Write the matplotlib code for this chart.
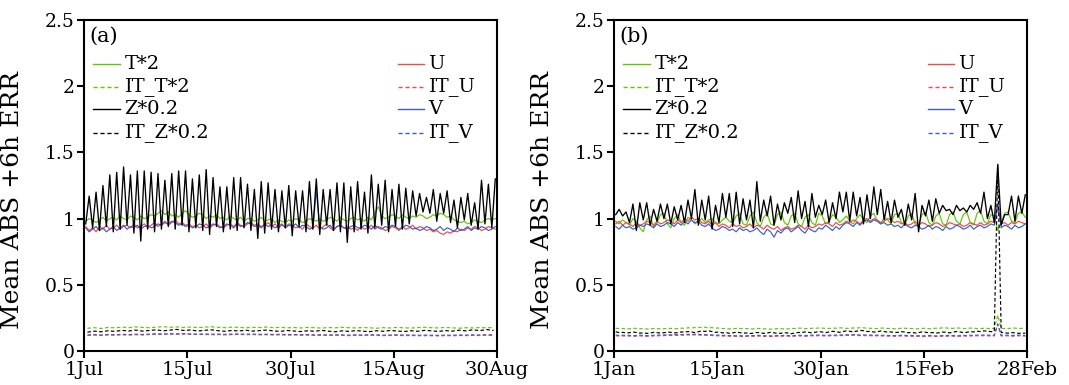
import numpy as np
import matplotlib
matplotlib.use("Agg")
import matplotlib.pyplot as plt
from matplotlib.lines import Line2D

# ---------------- data : panel (a) 1 Jul - 30 Aug ----------------
xtick_labels_a = ["1Jul", "15Jul", "30Jul", "15Aug", "30Aug"]
xtick_labels_b = ["1Jan", "15Jan", "30Jan", "15Feb", "28Feb"]
ytick_vals = [0, 0.5, 1, 1.5, 2, 2.5]
ytick_labels = ["0", "0.5", "1", "1.5", "2", "2.5"]

# Z*0.2 daily peaks / troughs (two points per day)
Z_peak_a = [1.17, 1.20, 1.25, 1.33, 1.35, 1.39, 1.33, 1.36, 1.36, 1.35,
            1.34, 1.29, 1.34, 1.36, 1.36, 1.30, 1.33, 1.37, 1.31, 1.24,
            1.24, 1.31, 1.31, 1.26, 1.22, 1.28, 1.27, 1.22, 1.21, 1.25,
            1.21, 1.21, 1.28, 1.30, 1.22, 1.22, 1.27, 1.27, 1.24, 1.28,
            1.20, 1.33, 1.26, 1.29, 1.22, 1.26, 1.23, 1.21, 1.19, 1.16,
            1.22, 1.19, 1.21, 1.14, 1.16, 1.19, 1.12, 1.29, 1.26, 1.30]
Z_trough_a = [0.96, 0.93, 0.91, 0.94, 0.90, 0.92, 0.95, 0.89, 0.83, 0.92,
              0.90, 0.92, 0.94, 0.92, 0.95, 0.90, 0.93, 0.91, 0.88, 0.94,
              0.90, 0.92, 0.91, 0.93, 0.91, 0.85, 0.89, 0.92, 0.90, 0.93,
              0.87, 0.94, 0.90, 0.92, 0.88, 0.95, 0.91, 0.90, 0.82, 0.90,
              0.92, 0.89, 0.93, 0.95, 0.90, 0.94, 0.92, 0.96, 1.02, 1.05,
              1.04, 0.98, 1.04, 0.97, 0.93, 0.99, 0.95, 0.92, 0.96, 0.93]
T_a = [0.98, 1.00, 0.99, 0.97, 0.99, 1.01, 0.98, 1.00, 1.01, 0.99,
       1.02, 1.00, 0.99, 1.02, 1.01, 0.99, 1.02, 1.00, 1.01, 1.03,
       1.02, 1.04, 1.06, 1.03, 1.05, 1.02, 1.03, 1.01, 1.04, 1.06,
       1.03, 1.01, 1.02, 1.04, 1.03, 1.00, 1.02, 1.01, 1.03, 1.00,
       1.01, 0.99, 1.02, 1.00, 0.99, 1.01, 0.98, 1.00, 1.00, 0.98,
       0.99, 1.01, 0.98, 0.99, 1.00, 0.97, 0.99, 0.98, 0.97, 0.99,
       0.98, 1.00, 0.99, 0.97, 0.98, 1.00, 0.99, 0.98, 1.00, 0.98,
       0.99, 1.01, 1.00, 0.98, 1.01, 0.99, 0.98, 1.00, 1.01, 0.99,
       1.00, 0.98, 1.01, 0.99, 1.04, 1.09, 1.02, 1.00, 1.01, 1.03,
       1.02, 1.00, 1.03, 1.01, 1.00, 1.02, 1.01, 1.03, 1.02, 1.00,
       1.01, 1.03, 1.02, 1.04, 1.03, 1.01, 1.02, 0.99, 0.98, 0.97,
       0.98, 0.96, 0.97, 0.99, 0.98, 0.97, 0.99, 1.00, 0.99, 1.00]
U_a = [0.94, 0.91, 0.93, 0.90, 0.94, 0.92, 0.95, 0.92, 0.93, 0.95,
       0.92, 0.94, 0.95, 0.93, 0.96, 0.93, 0.94, 0.96, 0.93, 0.95,
       0.97, 0.94, 0.96, 0.98, 0.95, 0.97, 0.99, 0.96, 0.97, 0.95,
       0.96, 0.94, 0.95, 0.93, 0.94, 0.96, 0.93, 0.95, 0.96, 0.94,
       0.93, 0.95, 0.96, 0.94, 0.97, 0.95, 0.94, 0.96, 0.97, 0.95,
       0.96, 0.94, 0.95, 0.97, 0.94, 0.96, 0.93, 0.95, 0.94, 0.96,
       0.95, 0.93, 0.94, 0.92, 0.96, 0.94, 0.93, 0.95, 0.92, 0.94,
       0.96, 0.93, 0.91, 0.94, 0.95, 0.93, 0.94, 0.92, 0.93, 0.91,
       0.94, 0.92, 0.93, 0.95, 0.92, 0.94, 0.93, 0.91, 0.92, 0.94,
       0.93, 0.91, 0.94, 0.92, 0.93, 0.95, 0.92, 0.94, 0.93, 0.91,
       0.92, 0.90, 0.91, 0.89, 0.88, 0.90, 0.89, 0.91, 0.90, 0.92,
       0.91, 0.93, 0.92, 0.94, 0.93, 0.91, 0.92, 0.94, 0.93, 0.92]
V_a = [0.93, 0.90, 0.92, 0.94, 0.91, 0.93, 0.90, 0.92, 0.94, 0.91,
       0.93, 0.95, 0.92, 0.94, 0.93, 0.95, 0.92, 0.94, 0.95, 0.93,
       0.94, 0.96, 0.95, 0.97, 0.96, 0.98, 0.97, 0.95, 0.96, 0.94,
       0.95, 0.93, 0.94, 0.96, 0.95, 0.93, 0.94, 0.96, 0.95, 0.93,
       0.94, 0.96, 0.95, 0.93, 0.96, 0.94, 0.95, 0.97, 0.96, 0.94,
       0.95, 0.93, 0.96, 0.94, 0.95, 0.93, 0.94, 0.96, 0.93, 0.95,
       0.94, 0.96, 0.93, 0.95, 0.94, 0.92, 0.93, 1.21, 0.94, 0.92,
       0.93, 0.95, 0.92, 0.94, 0.95, 0.93, 0.92, 0.94, 0.95, 0.93,
       0.93, 0.95, 0.94, 0.92, 0.95, 0.93, 0.92, 0.94, 0.93, 0.95,
       0.94, 0.92, 0.93, 0.95, 0.94, 0.92, 0.93, 0.91, 0.92, 0.94,
       0.93, 0.91, 0.92, 0.94, 0.91, 0.93, 0.92, 0.90, 0.93, 0.91,
       0.92, 0.94, 0.91, 0.93, 0.92, 0.94, 0.93, 0.91, 0.92, 0.94]
IT_T_a = [0.172, 0.176, 0.170, 0.178, 0.175, 0.180, 0.176, 0.182, 0.178, 0.176,
          0.180, 0.184, 0.179, 0.182, 0.178, 0.181, 0.177, 0.180, 0.183, 0.179,
          0.176, 0.180, 0.178, 0.175, 0.179, 0.177, 0.181, 0.176, 0.178, 0.175,
          0.177, 0.174, 0.178, 0.176, 0.173, 0.177, 0.175, 0.179, 0.176, 0.174,
          0.177, 0.175, 0.172, 0.176, 0.174, 0.178, 0.175, 0.173, 0.177, 0.179,
          0.176, 0.174, 0.178, 0.175, 0.172, 0.176, 0.174, 0.177, 0.175, 0.178]
IT_Z_a = [0.142, 0.150, 0.145, 0.153, 0.148, 0.156, 0.151, 0.158, 0.150, 0.155,
          0.160, 0.152, 0.158, 0.163, 0.155, 0.159, 0.151, 0.156, 0.160, 0.153,
          0.149, 0.155, 0.151, 0.157, 0.150, 0.154, 0.158, 0.152, 0.148, 0.155,
          0.151, 0.147, 0.153, 0.149, 0.156, 0.150, 0.145, 0.152, 0.148, 0.154,
          0.150, 0.146, 0.153, 0.149, 0.155, 0.151, 0.147, 0.153, 0.149, 0.156,
          0.152, 0.148, 0.154, 0.150, 0.157, 0.152, 0.160, 0.154, 0.162, 0.155]
IT_U_a = [0.118, 0.120, 0.117, 0.121, 0.119, 0.122, 0.120, 0.123, 0.121, 0.124,
          0.126, 0.125, 0.127, 0.126, 0.128, 0.126, 0.124, 0.125, 0.123, 0.124,
          0.122, 0.124, 0.125, 0.123, 0.124, 0.122, 0.123, 0.121, 0.122, 0.120,
          0.121, 0.119, 0.120, 0.118, 0.119, 0.117, 0.119, 0.118, 0.116, 0.118,
          0.117, 0.119, 0.118, 0.116, 0.117, 0.118, 0.116, 0.117, 0.115, 0.116,
          0.115, 0.114, 0.116, 0.115, 0.117, 0.116, 0.118, 0.117, 0.119, 0.118]
IT_V_a = [0.122, 0.124, 0.121, 0.125, 0.123, 0.126, 0.124, 0.127, 0.125, 0.128,
          0.130, 0.129, 0.131, 0.130, 0.131, 0.129, 0.128, 0.129, 0.127, 0.128,
          0.126, 0.128, 0.129, 0.127, 0.128, 0.126, 0.127, 0.125, 0.126, 0.124,
          0.125, 0.123, 0.124, 0.122, 0.123, 0.121, 0.123, 0.122, 0.120, 0.122,
          0.121, 0.123, 0.122, 0.120, 0.121, 0.122, 0.120, 0.121, 0.119, 0.120,
          0.119, 0.118, 0.120, 0.119, 0.121, 0.120, 0.122, 0.121, 0.123, 0.122]

# ---------------- data : panel (b) 1 Jan - 28 Feb ----------------
Z_peak_b = [1.07, 1.05, 1.11, 1.12, 1.12, 1.07, 1.11, 1.11, 1.09, 1.10,
            1.14, 1.22, 1.14, 1.17, 1.10, 1.19, 1.19, 1.20, 1.15, 1.14,
            1.28, 1.14, 1.17, 1.11, 1.12, 1.16, 1.21, 1.13, 1.19, 1.10,
            1.14, 1.12, 1.20, 1.20, 1.20, 1.16, 1.18, 1.24, 1.22, 1.13,
            1.14, 1.07, 1.11, 1.19, 1.10, 1.14, 1.15, 1.10, 1.07, 1.10,
            1.08, 1.10, 1.12, 1.20, 1.10, 1.41, 1.03, 1.17, 1.17, 1.18]
Z_trough_b = [1.03, 1.02, 0.97, 0.91, 0.99, 0.95, 0.98, 1.00, 0.96, 0.99,
              0.97, 1.00, 0.95, 0.99, 0.92, 0.97, 1.01, 0.94, 0.96, 0.99,
              0.93, 0.98, 1.02, 0.95, 0.99, 1.04, 0.97, 1.00, 0.94, 1.01,
              1.03, 0.97, 1.00, 1.05, 0.98, 1.02, 0.96, 1.00, 1.03, 0.99,
              0.97, 1.01, 0.95, 0.99, 0.90, 1.02, 0.98, 1.04, 1.06, 1.03,
              1.06, 1.05, 1.07, 1.04, 1.00, 0.97, 0.95, 1.03, 0.98, 1.04]
T_b = [0.98, 0.96, 0.99, 0.97, 0.95, 1.00, 0.98, 0.93, 0.90, 0.99,
       1.02, 0.94, 0.97, 1.03, 1.04, 0.96, 0.93, 1.00, 1.03, 0.97,
       0.95, 1.01, 0.99, 0.96, 0.98, 1.00, 0.97, 0.99, 1.00, 0.97,
       0.96, 0.99, 1.01, 0.98, 0.97, 1.02, 1.04, 0.96, 0.95, 1.02,
       1.05, 0.97, 0.94, 1.01, 1.04, 0.96, 0.95, 1.03, 1.05, 0.97,
       0.95, 1.02, 1.04, 0.96, 0.94, 1.01, 1.03, 0.97, 0.95, 1.04,
       1.02, 0.96, 0.98, 1.03, 1.01, 0.97, 0.99, 1.02, 0.98, 0.96,
       1.00, 1.03, 0.99, 0.97, 1.02, 1.04, 0.98, 0.96, 1.01, 0.99,
       0.96, 1.03, 1.04, 0.97, 0.95, 1.02, 1.04, 0.96, 0.95, 1.03,
       1.05, 0.97, 0.95, 1.02, 1.04, 0.96, 0.95, 1.03, 1.05, 0.98,
       0.96, 1.03, 1.05, 0.97, 0.95, 1.04, 1.06, 0.98, 0.96, 1.03,
       1.02, 0.91, 0.97, 1.04, 1.05, 0.98, 0.97, 1.04, 1.05, 1.01]
U_b = [0.96, 0.98, 0.95, 0.97, 0.96, 0.94, 0.97, 0.95, 0.96, 0.98,
       0.97, 0.95, 0.98, 0.96, 0.97, 0.99, 0.98, 0.96, 0.99, 0.97,
       1.00, 0.98, 1.01, 0.99, 1.00, 0.97, 0.96, 0.98, 0.95, 0.97,
       0.94, 0.96, 0.95, 0.93, 0.96, 0.94, 0.95, 0.93, 0.94, 0.96,
       0.93, 0.95, 0.94, 0.92, 0.95, 0.93, 0.92, 0.94, 0.91, 0.93,
       0.94, 0.92, 0.93, 0.95, 0.94, 0.92, 0.95, 0.93, 0.94, 0.96,
       0.95, 0.97, 0.96, 0.94, 0.97, 0.95, 0.96, 0.98, 0.97, 0.99,
       0.98, 0.96, 0.99, 1.00, 0.98, 1.00, 0.99, 0.97, 0.98, 1.00,
       0.99, 0.97, 0.98, 0.96, 0.97, 0.95, 0.96, 0.98, 0.95, 0.97,
       0.96, 0.94, 0.95, 0.97, 0.96, 0.94, 0.95, 0.97, 0.96, 0.95,
       0.96, 0.94, 0.95, 0.97, 0.96, 0.95, 0.97, 0.95, 0.96, 0.98,
       0.97, 1.11, 0.96, 0.97, 0.95, 0.97, 0.96, 0.98, 0.97, 0.96]
V_b = [0.94, 0.92, 0.95, 0.93, 0.94, 0.92, 0.93, 0.95, 0.94, 0.96,
       0.95, 0.93, 0.96, 0.94, 0.95, 0.97, 0.96, 0.94, 0.97, 0.95,
       0.98, 0.96, 0.99, 0.97, 0.98, 0.95, 0.94, 0.96, 0.93, 0.91,
       0.92, 0.94, 0.93, 0.91, 0.92, 0.90, 0.93, 0.91, 0.92, 0.90,
       0.91, 0.93, 0.90, 0.88, 0.92, 0.90, 0.86, 0.91, 0.89, 0.92,
       0.93, 0.90, 0.92, 0.94, 0.91, 0.89, 0.93, 0.91, 0.90, 0.93,
       0.92, 0.95, 0.93, 0.91, 0.94, 0.92, 0.95, 0.97, 0.96, 0.94,
       0.97, 0.95, 0.98, 0.99, 0.97, 0.99, 0.98, 0.96, 0.97, 0.95,
       0.96, 0.94, 0.95, 0.93, 0.96, 0.94, 0.93, 0.95, 0.94, 0.92,
       0.93, 0.95, 0.92, 0.94, 0.93, 0.91, 0.94, 0.92, 0.93, 0.95,
       0.94, 0.92, 0.93, 0.95, 0.92, 0.94, 0.95, 0.93, 0.94, 0.96,
       0.95, 1.11, 0.93, 0.95, 0.94, 0.92, 0.95, 0.93, 0.94, 0.96]
IT_T_b = [0.172, 0.169, 0.170, 0.167, 0.168, 0.171, 0.171, 0.168, 0.169, 0.166,
          0.167, 0.170, 0.170, 0.167, 0.168, 0.171, 0.171, 0.168, 0.169, 0.172,
          0.172, 0.175, 0.174, 0.177, 0.177, 0.180, 0.179, 0.176, 0.176, 0.173,
          0.173, 0.170, 0.170, 0.167, 0.168, 0.171, 0.171, 0.168, 0.169, 0.167,
          0.167, 0.170, 0.170, 0.167, 0.168, 0.165, 0.166, 0.169, 0.169, 0.166,
          0.167, 0.170, 0.170, 0.173, 0.172, 0.169, 0.169, 0.172, 0.171, 0.174,
          0.173, 0.170, 0.170, 0.173, 0.172, 0.175, 0.174, 0.171, 0.171, 0.174,
          0.173, 0.176, 0.175, 0.172, 0.172, 0.169, 0.170, 0.173, 0.173, 0.170,
          0.171, 0.168, 0.169, 0.172, 0.172, 0.169, 0.170, 0.167, 0.168, 0.171,
          0.171, 0.168, 0.169, 0.172, 0.172, 0.175, 0.174, 0.171, 0.171, 0.174,
          0.173, 0.170, 0.170, 0.173, 0.172, 0.169, 0.169, 0.172, 0.171, 0.168,
          0.172, 0.270, 0.172, 0.169, 0.170, 0.173, 0.173, 0.170, 0.171, 0.174]
IT_Z_b = [0.145, 0.139, 0.141, 0.136, 0.138, 0.143, 0.140, 0.135, 0.137, 0.133,
          0.136, 0.141, 0.139, 0.135, 0.138, 0.143, 0.141, 0.136, 0.139, 0.144,
          0.142, 0.147, 0.144, 0.139, 0.146, 0.151, 0.148, 0.153, 0.146, 0.141,
          0.143, 0.137, 0.139, 0.134, 0.137, 0.142, 0.139, 0.135, 0.136, 0.132,
          0.135, 0.140, 0.138, 0.133, 0.136, 0.141, 0.137, 0.133, 0.134, 0.138,
          0.136, 0.131, 0.135, 0.140, 0.139, 0.144, 0.141, 0.137, 0.142, 0.147,
          0.143, 0.139, 0.144, 0.149, 0.146, 0.141, 0.147, 0.152, 0.149, 0.144,
          0.150, 0.156, 0.153, 0.147, 0.148, 0.143, 0.146, 0.151, 0.147, 0.142,
          0.144, 0.139, 0.141, 0.146, 0.143, 0.138, 0.140, 0.136, 0.139, 0.144,
          0.142, 0.137, 0.139, 0.135, 0.138, 0.143, 0.141, 0.137, 0.142, 0.147,
          0.144, 0.139, 0.141, 0.146, 0.144, 0.149, 0.147, 0.152, 0.150, 0.146,
          0.148, 1.400, 0.141, 0.137, 0.135, 0.139, 0.137, 0.133, 0.136, 0.134]
IT_U_b = [0.115, 0.113, 0.114, 0.112, 0.113, 0.111, 0.112, 0.114, 0.113, 0.111,
          0.112, 0.114, 0.114, 0.116, 0.116, 0.118, 0.117, 0.119, 0.118, 0.120,
          0.119, 0.121, 0.120, 0.122, 0.121, 0.119, 0.119, 0.117, 0.117, 0.115,
          0.115, 0.113, 0.113, 0.111, 0.112, 0.110, 0.111, 0.109, 0.110, 0.112,
          0.111, 0.113, 0.112, 0.110, 0.111, 0.109, 0.110, 0.112, 0.111, 0.113,
          0.112, 0.110, 0.112, 0.114, 0.113, 0.111, 0.113, 0.115, 0.114, 0.116,
          0.115, 0.113, 0.114, 0.116, 0.115, 0.117, 0.116, 0.118, 0.117, 0.119,
          0.118, 0.116, 0.117, 0.115, 0.116, 0.114, 0.115, 0.113, 0.114, 0.112,
          0.113, 0.111, 0.112, 0.114, 0.113, 0.111, 0.112, 0.110, 0.111, 0.109,
          0.110, 0.112, 0.111, 0.109, 0.110, 0.112, 0.111, 0.113, 0.112, 0.110,
          0.111, 0.113, 0.112, 0.114, 0.113, 0.115, 0.114, 0.116, 0.115, 0.113,
          0.114, 0.200, 0.113, 0.115, 0.114, 0.112, 0.113, 0.115, 0.114, 0.112]
IT_V_b = [0.120, 0.118, 0.119, 0.117, 0.118, 0.116, 0.117, 0.119, 0.118, 0.116,
          0.117, 0.119, 0.119, 0.121, 0.121, 0.123, 0.122, 0.124, 0.123, 0.125,
          0.124, 0.126, 0.125, 0.127, 0.126, 0.124, 0.124, 0.122, 0.122, 0.120,
          0.120, 0.118, 0.118, 0.116, 0.117, 0.115, 0.116, 0.114, 0.115, 0.117,
          0.116, 0.118, 0.117, 0.115, 0.116, 0.114, 0.115, 0.117, 0.116, 0.118,
          0.117, 0.115, 0.117, 0.119, 0.118, 0.116, 0.118, 0.120, 0.119, 0.121,
          0.120, 0.118, 0.119, 0.121, 0.120, 0.122, 0.121, 0.123, 0.122, 0.124,
          0.123, 0.121, 0.122, 0.120, 0.121, 0.119, 0.120, 0.118, 0.119, 0.117,
          0.118, 0.116, 0.117, 0.119, 0.118, 0.116, 0.117, 0.115, 0.116, 0.114,
          0.115, 0.117, 0.116, 0.114, 0.115, 0.117, 0.116, 0.118, 0.117, 0.115,
          0.116, 0.118, 0.117, 0.119, 0.118, 0.120, 0.119, 0.121, 0.120, 0.118,
          0.119, 0.205, 0.118, 0.120, 0.119, 0.117, 0.118, 0.120, 0.119, 0.117]

# ---------------- style ----------------
GREEN = "#5ec800"
RED = "#f24a4a"
BLUE = "#3f5fc4"
BLACK = "#000000"
DASH = (0, (3, 2))

plt.rcParams["font.family"] = ["DejaVu Serif", "DejaVu Sans"]

fig = plt.figure(figsize=(10.69, 3.85), dpi=100)
W, H = 1069.0, 385.0
ax_a = fig.add_axes([84 / W, 1 - 351 / H, 413 / W, 331 / H])
ax_b = fig.add_axes([614 / W, 1 - 351 / H, 413 / W, 331 / H])


def xs(values, n_days):
    n = len(values)
    return (np.arange(n) + 0.5) * n_days / n


def draw(ax, T, U, V, Zp, Zt, IT_T, IT_Z, IT_U, IT_V, xlabels, tag):
    n_days = len(Zp)
    Z = []
    for t, p in zip(Zt, Zp):
        Z += [t, p]
    lw = 0.85
    ax.plot(xs(T, n_days), T, color=GREEN, lw=lw, zorder=2)
    ax.plot(xs(IT_T, n_days), IT_T, color=GREEN, lw=lw, ls=DASH, zorder=2)
    ax.plot(xs(U, n_days), U, color=RED, lw=lw, zorder=3)
    ax.plot(xs(IT_U, n_days), IT_U, color=RED, lw=lw, ls=DASH, zorder=3)
    ax.plot(xs(V, n_days), V, color=BLUE, lw=lw, zorder=4)
    ax.plot(xs(IT_V, n_days), IT_V, color=BLUE, lw=lw, ls=DASH, zorder=4)
    ax.plot(xs(Z, n_days), Z, color=BLACK, lw=0.95, zorder=5)
    ax.plot(xs(IT_Z, n_days), IT_Z, color=BLACK, lw=lw, ls=DASH, zorder=5)

    ax.set_xlim(0, n_days)
    ax.set_ylim(0, 2.5)
    ax.set_xticks(np.linspace(0, n_days, len(xlabels)))
    ax.set_xticklabels(xlabels, fontsize=14)
    ax.set_yticks(ytick_vals)
    ax.set_yticklabels(ytick_labels, fontsize=13.5)
    ax.tick_params(direction="out", length=5, width=1.5, pad=2)
    for s in ax.spines.values():
        s.set_linewidth(1.5)
    ax.set_ylabel("Mean ABS +6h ERR", fontsize=18)
    ax.yaxis.set_label_coords(-0.145, 0.455)

    ax.text(0.014, 0.952, tag, transform=ax.transAxes, fontsize=15,
            ha="left", va="center")

    rows = [0.866, 0.798, 0.730, 0.660]
    left = [("T*2", GREEN, "-"), ("IT_T*2", GREEN, DASH),
            ("Z*0.2", BLACK, "-"), ("IT_Z*0.2", BLACK, DASH)]
    right = [("U", RED, "-"), ("IT_U", RED, DASH),
             ("V", BLUE, "-"), ("IT_V", BLUE, DASH)]
    for (lab, c, ls), y in zip(left, rows):
        ax.add_line(Line2D([0.022, 0.086], [y, y], transform=ax.transAxes,
                           color=c, ls=ls, lw=1.0))
        ax.text(0.098, y, lab, transform=ax.transAxes, fontsize=14,
                ha="left", va="center")
    for (lab, c, ls), y in zip(right, rows):
        ax.add_line(Line2D([0.760, 0.823], [y, y], transform=ax.transAxes,
                           color=c, ls=ls, lw=1.0))
        ax.text(0.834, y, lab, transform=ax.transAxes, fontsize=14,
                ha="left", va="center")


draw(ax_a, T_a, U_a, V_a, Z_peak_a, Z_trough_a, IT_T_a, IT_Z_a, IT_U_a, IT_V_a,
     xtick_labels_a, "(a)")
draw(ax_b, T_b, U_b, V_b, Z_peak_b, Z_trough_b, IT_T_b, IT_Z_b, IT_U_b, IT_V_b,
     xtick_labels_b, "(b)")

fig.savefig("out.png", dpi=100)
